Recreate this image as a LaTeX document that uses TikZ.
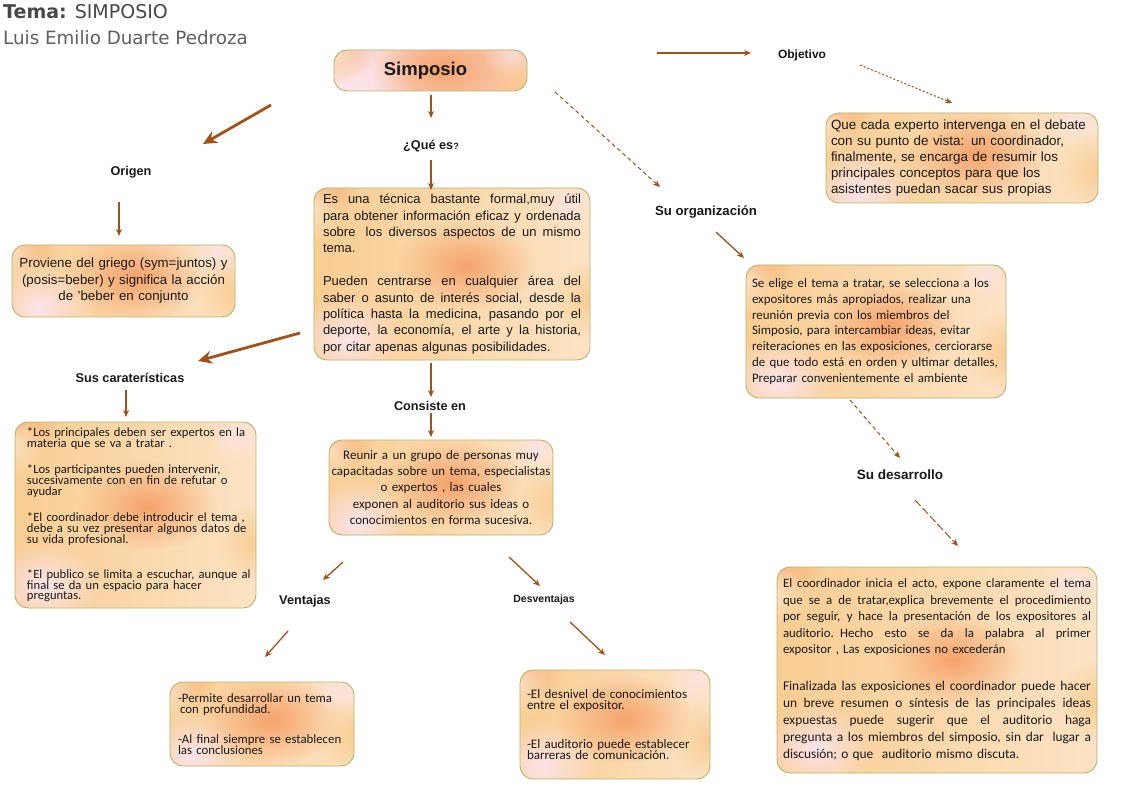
\documentclass[tikz,border=0pt]{standalone}
\usepackage{fontspec}
\setmainfont{Liberation Sans}
\newfontfamily\calib{Carlito}
\newfontfamily\handfont{DejaVu Sans}
\usetikzlibrary{arrows.meta,fadings,calc}
\definecolor{arrbrown}{HTML}{A0521A}
\definecolor{boxline}{HTML}{B9B46E}
\definecolor{sal}{HTML}{F6A36C}
\definecolor{lyel}{HTML}{F9CD92}
\definecolor{cream}{HTML}{FCE3C4}
\definecolor{lpink}{HTML}{FCE4EA}
\definecolor{txt}{HTML}{1A1A1A}
\tikzfading[name=fuzzyc, inner color=transparent!0, outer color=transparent!100]
\newcommand\jl[2]{\leavevmode\hbox to #1{\spaceskip=0.26em plus 1fil\relax #2}}
\newcommand\tightls{\lineskiplimit=-20pt\relax}
\begin{document}
\begin{tikzpicture}[x=1pt,y=-1pt,
  blobs/.style={path picture={
    \coordinate (bbsw) at (path picture bounding box.south west);
    \coordinate (bbne) at (path picture bounding box.north east);
    \fill[lpink, path fading=fuzzyc] ($(bbsw)!0.12!(bbne)$) ellipse (55 and 45);
    \fill[sal, path fading=fuzzyc] ($(bbsw)!0.55!(bbne)$) ellipse (70 and 45);
    \fill[sal, path fading=fuzzyc, opacity=0.8] (bbsw |- bbne) ellipse (45 and 32);
    \fill[cream, path fading=fuzzyc, opacity=0.9] ($(bbsw)!0.88!(bbne -| bbsw)$) ellipse (30 and 35);
    \fill[lyel, path fading=fuzzyc] ($(bbsw -| bbne)!0.35!(bbne)$) ellipse (40 and 40);
    \fill[lpink, path fading=fuzzyc, opacity=0.7] ($(bbsw)!0.92!(bbne)$) ellipse (30 and 25);
  }},
  box/.style={draw=boxline, line width=0.9pt, rounded corners=13pt,
    left color=lyel, middle color=sal, right color=cream,
    blobs, inner sep=0pt, text=txt},
  lbl/.style={font=\bfseries\fontsize{12.7}{14}\selectfont, inner sep=0pt, text=txt},
  arr/.style={draw=arrbrown, line width=1.3pt, -{Stealth[length=7pt,width=6pt]}},
  bigarr/.style={draw=arrbrown, line width=2.8pt, -{Stealth[length=14pt,width=13pt]}},
  dasharr/.style={arr, dashed, dash pattern=on 4pt off 3pt, line width=1pt}
]
\useasboundingbox (0,0) rectangle (1122,794);
\fill[white] (0,0) rectangle (1122,794);

% title
\node[anchor=west, inner sep=0pt, text=txt!80, font=\handfont\fontsize{19}{21}\selectfont] (tema) at (3,12) {\textbf{Tema:} SIMPOSIO};
\node[anchor=west, inner sep=0pt, text=txt!70, font=\handfont\fontsize{18.3}{21}\selectfont] (autor) at (3,38) {Luis Emilio Duarte Pedroza};

% main box
\node[box, left color=lpink, middle color=lyel!50!cream, right color=sal!70, minimum width=193, minimum height=41,
  font=\bfseries\fontsize{18.5}{20}\selectfont] (simp) at (430.5,70.5) {Simposio\hspace*{10pt}};

% labels
\node[lbl] (quees) at (431,146) {¿Qué es{\fontsize{9}{10}\selectfont ?}};
\node[lbl] (origen) at (131,172) {Origen};
\node[lbl] (caract) at (130,378) {Sus caraterísticas};
\node[lbl] (consiste) at (430,406) {Consiste en};
\node[lbl] (ventajas) at (305,601) {Ventajas};
\node[lbl, font=\bfseries\fontsize{10.5}{12}\selectfont] (desvent) at (544,600) {Desventajas};
\node[lbl, font=\bfseries\fontsize{12}{14}\selectfont] (objetivo) at (802,55) {Objetivo};
\node[lbl, font=\bfseries\fontsize{13.2}{15}\selectfont] (organiz) at (706,212) {Su organización};
\node[lbl, font=\bfseries\fontsize{13.5}{15}\selectfont] (desarr) at (900,475) {Su desarrollo};

% boxes
\node[box, minimum width=276, minimum height=172, text width=258, align=left,
  font=\fontsize{13}{16.4}\selectfont] (quebox) at (452,274) {%
\jl{258pt}{Es una técnica bastante formal,muy útil}\\
\jl{258pt}{para obtener información eficaz y ordenada}\\
\jl{258pt}{sobre\hspace{4pt} los diversos aspectos de un mismo}\\
tema.\\[16.4pt]
\jl{258pt}{Pueden centrarse en cualquier área del}\\
\jl{258pt}{saber o asunto de interés social, desde la}\\
\jl{258pt}{política hasta la medicina, pasando por el}\\
\jl{258pt}{deporte, la economía, el arte y la historia,}\\
por citar apenas algunas posibilidades.};

\node[box, minimum width=223, minimum height=72, text width=214, align=center,
  font=\fontsize{13.3}{16.5}\selectfont] (origbox) at (123.5,281) {%
Proviene del griego (sym=juntos) y\\
(posis=beber) y significa la acción\\
de 'beber en conjunto};

\node[box, minimum width=241, minimum height=186, text width=234, align=left,
  font=\calib\fontsize{12.6}{10.8}\selectfont] (carbox) at (135.5,515) {%
\hspace*{8.5pt}\parbox{225pt}{\raggedright\tightls
*Los principales deben ser expertos en la\\
materia que se va a tratar .\\[15pt]
*Los participantes pueden intervenir,\\
sucesivamente con en fin de refutar o\\
ayudar\\[16pt]
*El coordinador debe introducir el tema ,\\
debe a su vez presentar algunos datos de\\
su vida profesional.\\[24pt]
*El publico se limita a escuchar, aunque al\\
final se da un espacio para hacer\\
preguntas.}};

\node[box, minimum width=224, minimum height=95, text width=224, align=center,
  font=\calib\fontsize{13}{16.2}\selectfont] (consbox) at (441,487.5) {%
Reunir a un grupo de personas muy\\
capacitadas sobre un tema, especialistas\\
o expertos , las cuales\\
exponen al auditorio sus ideas o\\
conocimientos en forma sucesiva.};

\node[box, minimum width=184, minimum height=84, text width=168, align=left,
  font=\calib\fontsize{12.8}{10.6}\selectfont] (ventbox) at (262,724) {%
\parbox{168pt}{\raggedright\tightls
-Permite desarrollar un tema\\
\,con profundidad.\\[20pt]
-Al final siempre se establecen\\
las conclusiones}};

\node[box, minimum width=190, minimum height=109, text width=180, align=left,
  font=\calib\fontsize{13}{10.8}\selectfont] (desvbox) at (615,724.5) {%
\hspace*{2pt}\parbox{176pt}{\raggedright\tightls
-El desnivel de conocimientos\\
entre el expositor.\\[28pt]
-El auditorio puede establecer\\
barreras de comunicación.}};

\node[box, minimum width=272, minimum height=90, text width=262, align=left,
  font=\fontsize{13.4}{16}\selectfont] (objbox) at (962,158) {%
Que cada experto intervenga en el debate\\
con su punto de vista: un coordinador,\\
finalmente, se encarga de resumir los\\
principales conceptos para que los\\
asistentes puedan sacar sus propias};

\node[box, minimum width=260, minimum height=133, text width=248, align=left,
  font=\calib\fontsize{12.9}{15.8}\selectfont] (orgbox) at (876,331.5) {%
Se elige el tema a tratar, se selecciona a los\\
expositores más apropiados, realizar una\\
reunión previa con los miembros del\\
Simposio, para intercambiar ideas, evitar\\
reiteraciones en las exposiciones, cerciorarse\\
de que todo está en orden y ultimar detalles,\\
Preparar convenientemente el ambiente};

\node[box, minimum width=320, minimum height=206, text width=308, align=left,
  font=\calib\fontsize{12.8}{16.4}\selectfont] (desbox) at (937,670) {%
\jl{308pt}{El coordinador inicia el acto, expone claramente el tema}\\
\jl{308pt}{que se a de tratar,explica brevemente el procedimiento}\\
\jl{308pt}{por seguir, y hace la presentación de los expositores al}\\
\jl{308pt}{auditorio. Hecho esto se da la palabra al primer}\\
expositor , Las exposiciones no excederán\\[21pt]
{\fontsize{13.4}{17}\selectfont\jl{308pt}{Finalizada las exposiciones el coordinador puede hacer}}\\[0.6pt]
{\fontsize{13.4}{17}\selectfont\jl{308pt}{un breve resumen o síntesis de las principales ideas}}\\[0.6pt]
{\fontsize{13.4}{17}\selectfont\jl{308pt}{expuestas puede sugerir que el auditorio haga}}\\[0.6pt]
{\fontsize{13.4}{17}\selectfont\jl{308pt}{pregunta a los miembros del simposio, sin dar\hspace{4pt} lugar a}}\\[0.6pt]
{\fontsize{13.4}{17}\selectfont discusión; o que \ auditorio mismo discuta.}};

% arrow end points
\coordinate (a1s) at (431,95);   \coordinate (a1e) at (431,118);
\coordinate (a2s) at (431,160);  \coordinate (a2e) at (431,190);
\coordinate (a3s) at (431,363);  \coordinate (a3e) at (431,397);
\coordinate (a4s) at (431,413);  \coordinate (a4e) at (431,437);
\coordinate (a5s) at (343,562);  \coordinate (a5e) at (323,580);
\coordinate (a6s) at (288,631);  \coordinate (a6e) at (265,657);
\coordinate (a7s) at (509,557);  \coordinate (a7e) at (540,586);
\coordinate (a8s) at (570,622);  \coordinate (a8e) at (605,655);
\coordinate (a9s) at (271,105);  \coordinate (a9e) at (203,144);
\coordinate (a10s) at (119,202); \coordinate (a10e) at (119,236);
\coordinate (a11s) at (300,333); \coordinate (a11e) at (198,361);
\coordinate (a12s) at (126,390); \coordinate (a12e) at (126,417);
\coordinate (a13s) at (657,53);  \coordinate (a13e) at (751,53);
\coordinate (a14s) at (860,65);  \coordinate (a14e) at (952,103);
\coordinate (a15s) at (555,92);  \coordinate (a15e) at (660,187);
\coordinate (a16s) at (716,232); \coordinate (a16e) at (744,258);
\coordinate (a17s) at (850,400); \coordinate (a17e) at (900,458);
\coordinate (a18s) at (915,500); \coordinate (a18e) at (958,546);

\draw[arr] (a1s) -- (a1e);
\draw[arr] (a2s) -- (a2e);
\draw[arr] (a3s) -- (a3e);
\draw[arr] (a4s) -- (a4e);
\draw[arr] (a5s) -- (a5e);
\draw[arr] (a6s) -- (a6e);
\draw[arr] (a7s) -- (a7e);
\draw[arr] (a8s) -- (a8e);
\draw[bigarr] (a9s) -- (a9e);
\draw[arr] (a10s) -- (a10e);
\draw[bigarr] (a11s) -- (a11e);
\draw[arr] (a12s) -- (a12e);
\draw[arr, line width=1.6pt] (a13s) -- (a13e);
\draw[dasharr, dash pattern=on 2pt off 2pt] (a14s) -- (a14e);
\draw[dasharr] (a15s) -- (a15e);
\draw[arr] (a16s) -- (a16e);
\draw[dasharr] (a17s) -- (a17e);
\draw[dasharr, dash pattern=on 8pt off 3pt] (a18s) -- (a18e);
\end{tikzpicture}
\end{document}
